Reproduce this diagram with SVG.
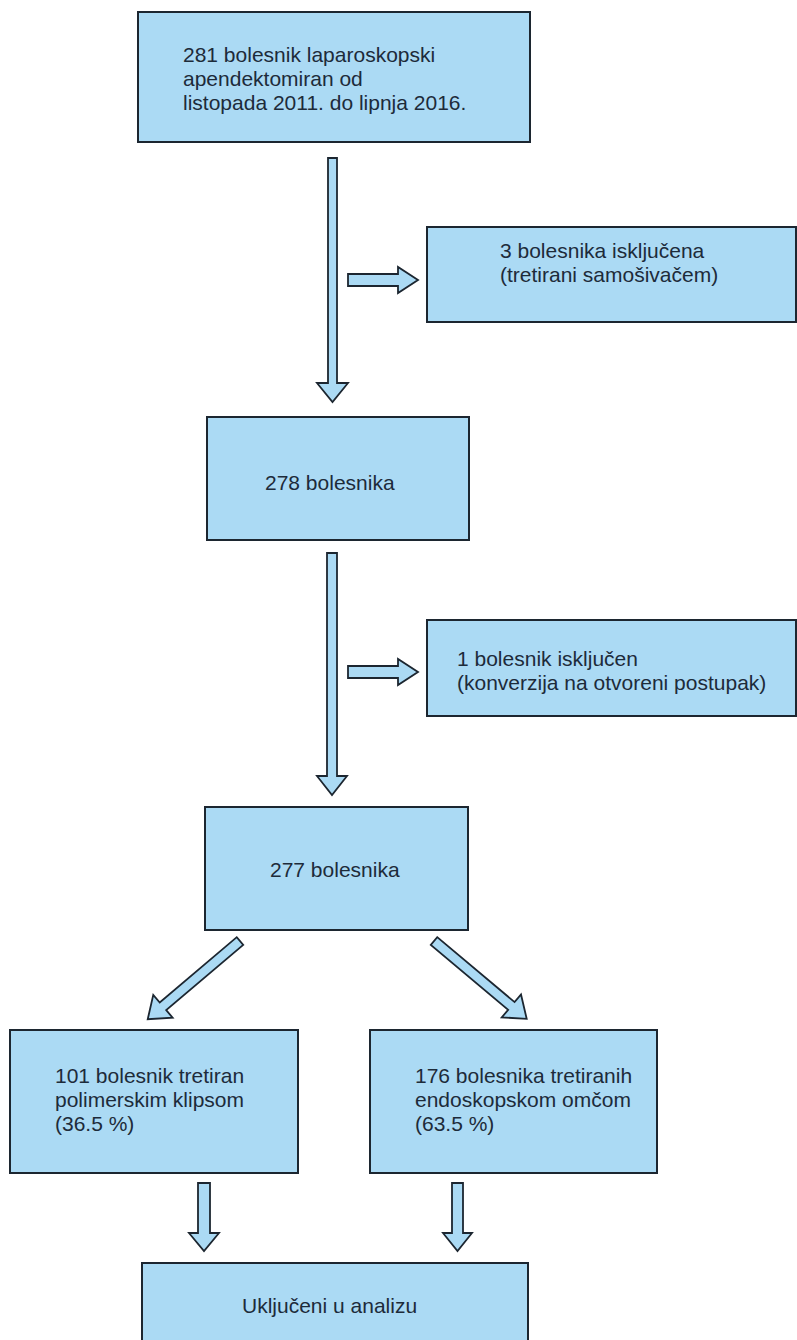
<svg xmlns="http://www.w3.org/2000/svg" width="797" height="1340" viewBox="0 0 797 1340">
<style>
.box{fill:#abdaf4;stroke:#1c2630;stroke-width:2}
.arr{fill:#abdaf4;stroke:#1c2630;stroke-width:1.8;stroke-linejoin:miter}
.t{font-family:"Liberation Sans",Arial,sans-serif;font-size:21px;fill:#1d2b3a}
</style>
<rect width="797" height="1340" fill="#ffffff"/>
<g id="n1"><rect class="box" x="138" y="12" width="392" height="130"/>
<text class="t" x="183" y="62">281 bolesnik laparoskopski</text>
<text class="t" x="183" y="86">apendektomiran od</text>
<text class="t" x="183" y="110">listopada 2011. do lipnja 2016.</text></g>
<g id="n2"><rect class="box" x="427" y="227" width="369" height="95"/>
<text class="t" x="500" y="258">3 bolesnika isključena</text>
<text class="t" x="500" y="282">(tretirani samošivačem)</text></g>
<g id="n3"><rect class="box" x="207" y="417" width="262" height="123"/>
<text class="t" x="265" y="490">278 bolesnika</text></g>
<g id="n4"><rect class="box" x="427" y="620" width="369" height="96"/>
<text class="t" x="457" y="666">1 bolesnik isključen</text>
<text class="t" x="457" y="690">(konverzija na otvoreni postupak)</text></g>
<g id="n5"><rect class="box" x="205" y="807" width="263" height="123"/>
<text class="t" x="270" y="877">277 bolesnika</text></g>
<g id="n6"><rect class="box" x="10" y="1030" width="288" height="143"/>
<text class="t" x="55" y="1083">101 bolesnik tretiran</text>
<text class="t" x="55" y="1107">polimerskim klipsom</text>
<text class="t" x="55" y="1131">(36.5 %)</text></g>
<g id="n7"><rect class="box" x="370" y="1030" width="287" height="143"/>
<text class="t" x="415" y="1083">176 bolesnika tretiranih</text>
<text class="t" x="415" y="1107">endoskopskom omčom</text>
<text class="t" x="415" y="1131">(63.5 %)</text></g>
<g id="n8"><rect class="box" x="142" y="1263" width="386" height="90"/>
<text class="t" x="242" y="1313">Uključeni u analizu</text></g>
<g id="connectors">
<polygon class="arr" points="328,158 337,158 337,383 348,383 332.5,402 317,383 328,383"/>
<polygon class="arr" points="348,274 398,274 398,267 418,280 398,293 398,286 348,286"/>
<polygon class="arr" points="327,553 337,553 337,776 347,776 332,795 317,776 327,776"/>
<polygon class="arr" points="348,666 398,666 398,659 418,672 398,685 398,678 348,678"/>
<polygon class="arr" transform="translate(240,941) rotate(139.7)" points="0,-5 101,-5 101,-15 121,0 101,15 101,5 0,5"/>
<polygon class="arr" transform="translate(434,941) rotate(40)" points="0,-5 101,-5 101,-15 121,0 101,15 101,5 0,5"/>
<polygon class="arr" points="198,1183 210,1183 210,1233 219,1233 204,1251 189,1233 198,1233"/>
<polygon class="arr" points="452,1183 463,1183 463,1233 472,1233 457.5,1251 443,1233 452,1233"/>
</g>
</svg>
